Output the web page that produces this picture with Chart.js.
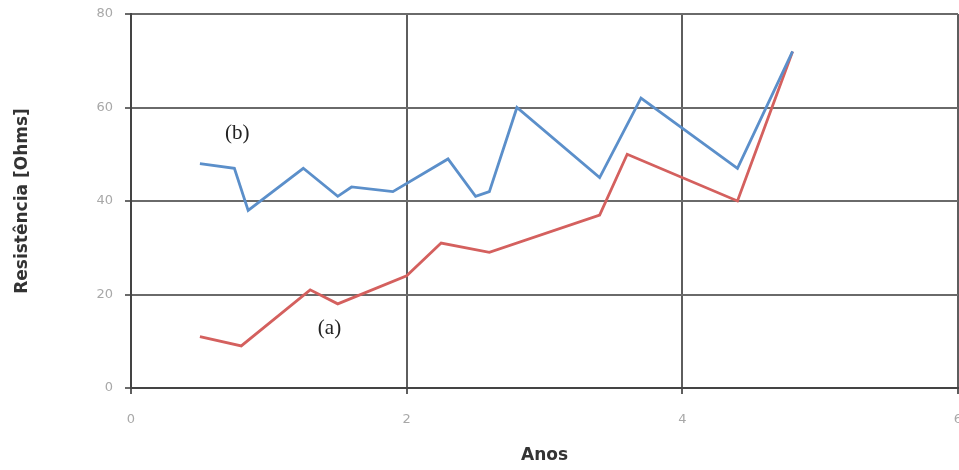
<!DOCTYPE html>
<html>
<head>
<meta charset="utf-8">
<script src="https://cdn.jsdelivr.net/npm/chart.js@4/dist/chart.umd.min.js"></script>
<style>
	body{margin:0;background:#fff;}
	#mycanvas{display:block;}
</style>
</head>
<body>
<canvas id="mycanvas" width="959" height="470"></canvas>
<script>
// curva (a)
var anosA = [0.5, 0.8, 1.3, 1.5, 2.0, 2.25, 2.6, 3.4, 3.6, 4.4, 4.8];
var resistA = [11, 9, 21, 18, 24, 31, 29, 37, 50, 40, 72];

// curva (b)
var anosB = [0.5, 0.75, 0.85, 1.25, 1.5, 1.6, 1.9, 2.3, 2.5, 2.6, 2.8, 3.4, 3.7, 4.4, 4.8];
var resistB = [48, 47, 38, 47, 41, 43, 42, 49, 41, 42, 60, 45, 62, 47, 72];

var xTicks = [0, 2, 4, 6];
var yTicks = [0, 20, 40, 60, 80];

// rotulos das curvas, em coordenadas do grafico
var rotulos = [
	{texto: "(b)", x: 0.77, y: 54.5},
	{texto: "(a)", x: 1.44, y: 12.8}
];

function pontos(xs, ys){
	var out = [];
	for(var i in xs){
		out.push({x: xs[i], y: ys[i]});
	}
	return out;
}

var rotulosPlugin = {
	id: "rotulos",
	afterDatasetsDraw: function(chart){
		var ctx = chart.ctx;
		var xs = chart.scales.x, ys = chart.scales.y;
		ctx.save();
		ctx.font = "21px 'Liberation Serif'";
		ctx.fillStyle = "#222";
		ctx.textAlign = "center";
		ctx.textBaseline = "middle";
		rotulos.forEach(function(r){
			ctx.fillText(r.texto, xs.getPixelForValue(r.x), ys.getPixelForValue(r.y));
		});
		ctx.restore();
	}
};

var chartdata = {
	datasets: [
	{
		label: "(b)",
		data: pontos(anosB, resistB),
		borderColor: "#5b8fca",
		backgroundColor: "#5b8fca",
		borderWidth: 2.8,
		pointRadius: 0,
		tension: 0,
		fill: false
	},
	{
		label: "(a)",
		data: pontos(anosA, resistA),
		borderColor: "#d4605e",
		backgroundColor: "#d4605e",
		borderWidth: 2.8,
		pointRadius: 0,
		tension: 0,
		fill: false
	}
	]
};

var ctx = document.getElementById("mycanvas");
var grafico = new Chart(ctx, {
	type: "line",
	data: chartdata,
	plugins: [rotulosPlugin],
	options: {
		responsive: false,
		animation: false,
		layout: {padding: {top: 14, right: 1, bottom: 0, left: 0}},
		plugins: {
			legend: {display: false},
			tooltip: {enabled: false}
		},
		scales: {
			x: {
				type: "linear",
				min: 0,
				max: 6,
				afterBuildTicks: function(s){ s.ticks = xTicks.map(function(v){ return {value: v}; }); },
				afterFit: function(s){ s.height = 82; s.paddingLeft = 0; s.paddingRight = 0; },
				ticks: {
					color: "#a8a8a8",
					padding: 18,
					maxRotation: 0,
					font: {family: "'DejaVu Sans'", size: 13}
				},
				grid: {color: "#5e5e5e", lineWidth: 2, tickLength: 6},
				border: {color: "#444", width: 2},
				title: {
					display: true,
					text: "Anos",
					color: "#333",
					padding: {top: 0, bottom: 4},
					font: {family: "'DejaVu Sans'", size: 17, weight: "bold"}
				}
			},
			y: {
				min: 0,
				max: 80,
				afterBuildTicks: function(s){ s.ticks = yTicks.map(function(v){ return {value: v}; }); },
				afterFit: function(s){ s.width = 131; s.paddingTop = 0; s.paddingBottom = 0; },
				ticks: {
					color: "#a8a8a8",
					padding: 12,
					font: {family: "'DejaVu Sans'", size: 13}
				},
				grid: {color: "#6a6a6a", lineWidth: 2, tickLength: 6},
				border: {color: "#444", width: 2},
				title: {
					display: true,
					text: "Resistência [Ohms]",
					color: "#333",
					padding: {top: 12, bottom: 0},
					font: {family: "'DejaVu Sans'", size: 17, weight: "bold"}
				}
			}
		}
	}
});
</script>
</body>
</html>
